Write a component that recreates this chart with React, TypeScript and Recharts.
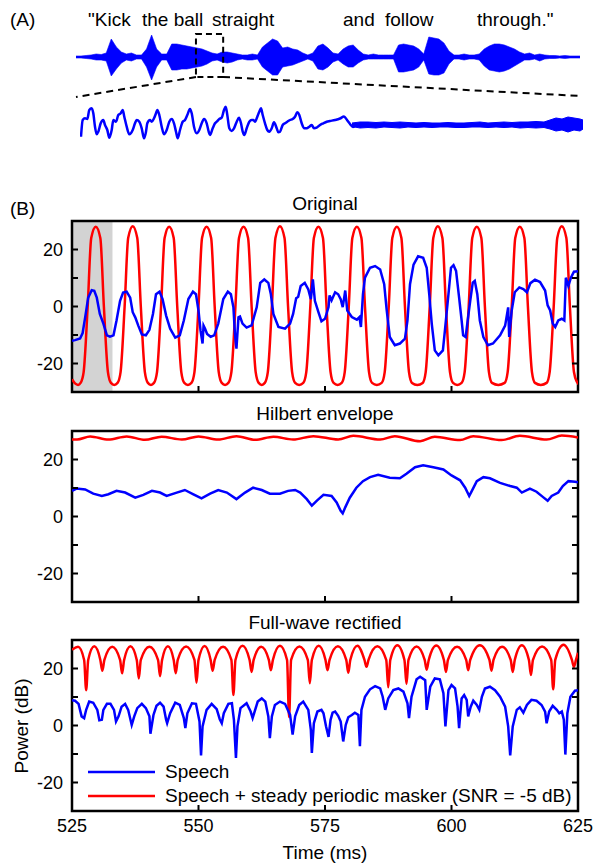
import React from "react";
import {
  Area,
  AreaChart,
  ComposedChart,
  Legend,
  Line,
  LineChart,
  ReferenceArea,
  XAxis,
  YAxis,
} from "recharts";

const FONT = '"Liberation Sans", Arial, Helvetica, sans-serif';
const BLUE = "#0000ff";
const RED = "#ff0000";

// ---- panel A: full sentence waveform (envelope per column, arbitrary units) ----
const sentenceWords = [
  { text: "\"Kick", x: 88 },
  { text: "the ball", x: 142 },
  { text: "straight", x: 212 },
  { text: "and", x: 343 },
  { text: "follow", x: 385 },
  { text: "through.\"", x: 477 },
];

const waveUpper = [
  1, 1, 1.5, 2, 3, 2.5, 4, 18, 10, 5, 3, 4, 2, 2, 8, 22, 8, 3, 3, 13, 13, 12, 11,
  10, 9, 8, 6, 4, 3, 5, 5, 4, 3, 2, 2, 3, 2, 10, 14, 18, 16, 9, 10, 8, 7, 4, 2, 4,
  11, 13, 9, 4, 3, 8, 11, 12, 7, 3, 2, 3, 2, 2, 2, 2, 12, 13, 12, 11, 8, 3, 20, 19,
  18, 14, 6, 2, 2, 3, 2, 2, 3, 8, 11, 13, 13, 12, 10, 8, 5, 3, 4, 2, 3, 2, 1.5, 1.5,
  1, 1.5, 1, 1, 1,
];
const waveLower = [
  -1, -1, -1.5, -2, -3, -3, -4, -19, -12, -6, -3, -4, -2, -2, -10, -23, -10, -3,
  -3, -13, -13, -12, -12, -11, -10, -9, -7, -4, -3, -5, -6, -5, -3, -2, -3, -3, -2,
  -10, -14, -18, -18, -10, -9, -8, -6, -4, -2, -4, -12, -13, -10, -5, -3, -7, -10,
  -10, -6, -3, -2, -2, -2, -2, -2, -2, -15, -15, -14, -13, -10, -3, -17, -18, -18,
  -16, -7, -2, -2, -3, -2, -2, -3, -9, -13, -14, -15, -14, -12, -9, -6, -3, -3, -2,
  -4, -2, -1.5, -1.5, -1, -1.5, -1, -1, -1,
];

// ---- panel A: zoomed excerpt (voiced part as a line, noisy part as a band) ----
const zoomVoiced: [number, number][] = [
  [1, -11.7], [2.7, 5], [5, 6.7], [7.3, 6], [9.3, 15], [11.7, 16.7], [13.3, 11.7],
  [15, -1.7], [16.7, -9.3], [18.3, -6.7], [20.7, 1.7], [23.3, 5], [25, 0], [27.3, -5],
  [29.3, -12.7], [31.7, -5], [33.3, 5], [36, 3.3], [38.3, 10], [40.7, 11.7], [42.7, 15],
  [44.3, 8.3], [46.7, -1.7], [49.3, -9.3], [52.7, -5], [55, 1.7], [56.7, 5], [59.3, 3.3],
  [61.7, -3.3], [64, -13.3], [66, -6.7], [67.3, 1.7], [70, 5], [71.7, 3.3], [74, 6.7],
  [76, 11.7], [77.3, 15], [79.3, 10], [81.7, -1.7], [84, -9.3], [86.7, -5], [89.3, 3.3],
  [91.7, 6], [94, 1.7], [96, -6.7], [97.7, -13.3], [100, -5], [102.7, 3.3], [105, 5],
  [107.3, 10], [110, 16], [111.7, 11.7], [114, -1.7], [116.7, -8.3], [119.3, -5],
  [121.7, 1.7], [124, 6], [126.7, 1.7], [128.7, -6.7], [130, -10], [132.7, -3.3],
  [135, 1.7], [136.7, 3.3], [139.3, 6], [141.7, 7.3], [144, 15], [145.7, 18.3],
  [147.3, 10], [149.3, -3.3], [151.7, -6], [154, -3.3], [156.7, 3.3], [159, 7.3],
  [161, 1.7], [162.7, -6.7], [164.3, -10], [166.7, -3.3], [169.3, 3.3], [171.7, 5],
  [173.3, 5], [175, 3.3], [177.3, 8.3], [179.3, 13.3], [181, 16.7], [182.7, 10],
  [185, 1.7], [187.3, -5], [189.3, -6.7], [191.7, -3.3], [194, 2.7], [196.7, -3.3],
  [198.3, -7.3], [200, -6.7], [202.7, 0], [205, 1.7], [207.3, 3.3], [210, 5],
  [212.7, 6], [215, 8.3], [217.3, 12.7], [219.3, 10], [221.7, 1.7], [224.3, -3.3],
  [226.7, -3.3], [229.3, -1.7], [231.7, 0], [234, -3.3], [236.7, -2.7], [240, 0],
  [243.3, 1.7], [246.7, 3.3], [250, 4], [255, 5], [260, 6.5], [264, 8.5], [267, 5],
  [270, 1], [273, -2], [276, 0],
];
const zoomNoise: [number, number, number][] = [
  [272, -1.5, 2], [280, -3, 3], [288, -2.5, 3], [296, -3, 2.5], [304, -2, 3], [312, -2.5, 2.5],
  [320, -3, 3], [328, -2, 2.5], [336, -2.5, 2], [344, -2, 2.5], [352, -2.5, 2], [360, -2, 2],
  [368, -2, 2.5], [376, -2.5, 2], [384, -2.5, 2], [392, -2, 2.5], [400, -2, 3],
  [408, -2.5, 2], [416, -2, 2.5], [424, -2.5, 3], [432, -2, 2.5], [440, -3, 3],
  [448, -2.5, 3], [456, -3, 3.5], [464, -2.5, 3], [470, -4, 5], [476, -6, 7],
  [482, -5, 6], [488, -7, 8], [494, -5, 7], [500, -6, 6], [503, -4, 5],
];

// ---- panel B: time (ms) / power (dB) pairs ----
const xTicks = [525, 550, 575, 600, 625];
const yTicks = [-20, -10, 0, 10, 20];
const yLabelled = [-20, 0, 20];
const legendLabels = ["Speech", "Speech + steady periodic masker (SNR = -5 dB)"];

const origSpeech: [number, number][] = [
  [525, -12], [525.6, -11.8], [526.6, -11.2], [527.1, -9.3], [527.6, -3.8], [528.2, 3.1],
  [528.9, 5.7], [529.4, 5.5], [529.9, 3.1], [530.5, -2.6], [531.2, -6], [531.9, -10.1],
  [532.5, -10.6], [533.2, -10.1], [533.8, -4.9], [534.5, 2], [535.1, 4.9], [535.8, 5.2],
  [536.5, 3.1], [537, -2], [537.5, -3.8], [538.1, -6.7], [538.8, -9.8], [539.6, -10.1],
  [540.3, -8.2], [541, -2.6], [541.6, 4.3], [542.3, 5.2], [542.9, 2.6], [543.6, -3.2],
  [544.4, -7.8], [545.4, -10.9], [546.3, -10.1], [547.1, -4.9], [548, 2.6], [548.9, 5.2],
  [549.5, 4.3], [550, -1.4], [550.4, -8.4], [550.8, -13], [551, -6.7], [551.3, -7.8],
  [551.7, -9.6], [552.4, -10.6], [553.1, -10.1], [553.9, -6], [554.9, 2.6], [555.8, 5.2],
  [556.4, 4.3], [556.9, -0.3], [557.2, -9.6], [557.5, -14.8], [557.9, -3.8], [558.2, -3.5],
  [558.7, -6], [559.5, -7.4], [560.5, -6.6], [561.5, -0.3], [562.2, 8.3], [563, 9.5],
  [563.8, 8.3], [564.3, 4.3], [564.8, -2.6], [565.8, -7.2], [567.1, -7.8], [568.1, -6],
  [568.7, -2.6], [569.3, 2.9], [569.7, 3.4], [570.2, 7.2], [571, 8.3], [571.7, 6],
  [572.2, 2.6], [572.6, 9.5], [573, 2], [573.7, -2], [574.3, -5.2], [575, -4.3],
  [575.7, -0.2], [575.9, 3.9], [576.3, 2.2], [577, 5], [577.6, 4.3], [578.1, 2.6],
  [578.5, -0.2], [578.8, 3.2], [579, 5.6], [579.4, -1.4], [580.3, -3.7], [581.3, -4.6],
  [581.8, -3.7], [582.1, -7.2], [582.5, 4.3], [582.9, 10.1], [583.9, 13.6], [584.9, 14.2],
  [585.9, 13], [586.7, 7.8], [587.2, -1.4], [587.8, -10.7], [588.8, -13.6], [589.8, -13],
  [590.8, -11.3], [591.3, -4.9], [591.8, 7.8], [592.5, 14.7], [593.4, 17.6], [594.4, 17.1],
  [595.1, 13.6], [595.6, 4.3], [596.1, -6.1], [596.7, -15.4], [597.4, -17.1], [598.3, -15.4],
  [598.7, -8.4], [599.4, 4.3], [599.9, 13.6], [600.4, 14.5], [600.9, 12.5], [601.5, 3.2],
  [602, -4.9], [602.3, -10.1], [602.8, -10.7], [603.2, -4.9], [603.7, 2], [604.2, 8.4],
  [604.6, 9], [605.1, 4.3], [605.6, -4.9], [606.3, -10.7], [607.2, -13.6], [608.2, -13],
  [609.6, -10.1], [610.6, -6.7], [611.2, -0.3], [611.4, -10.7], [611.9, -1.4], [612.5, 5],
  [613.4, 6.7], [614.2, 6.1], [614.9, 5], [615.6, 8.2], [616.5, 9.4], [617.5, 8.6],
  [618.5, 5.6], [619, 0.4], [619.5, -1.4], [620, -6], [620.5, -7.2], [621.1, -4.9],
  [621.8, -4.3], [622.3, -4.9], [622.6, 10.1], [623.1, 7.2], [623.6, 10.1], [624.2, 12.2],
  [625, 12.4],
];

const origMasked: [number, number][] = [
  [525, -25.5], [525.6, -27], [526.2, -27.5], [526.7, -26.8],
  [527.3, -23], [528.1, 0], [528.8, 24], [529.7, 28], [530.6, 24], [531.3, 0], [532.1, -23],
  [532.7, -26.8], [533.35, -27.5], [534, -26.8],
  [534.6, -23], [535.4, 0], [536.1, 24], [537, 28.2], [537.9, 24], [538.6, 0], [539.4, -23],
  [540, -26.8], [540.6, -27.5], [541.2, -26.8],
  [541.8, -23], [542.6, 0], [543.3, 24], [544.2, 28], [545.1, 24], [545.8, 0], [546.6, -23],
  [547.2, -26.8], [547.9, -27.5], [548.6, -26.8],
  [549.2, -23], [550, 0], [550.7, 24], [551.6, 28], [552.5, 24], [553.2, 0], [554, -23],
  [554.6, -26.8], [555.25, -27.5], [555.9, -26.8],
  [556.5, -23], [557.3, 0], [558, 24], [558.9, 28], [559.8, 24], [560.5, 0], [561.3, -23],
  [561.9, -26.8], [562.5, -27.5], [563.1, -26.8],
  [563.7, -23], [564.5, 0], [565.2, 24], [566.1, 28.2], [567, 24], [567.7, 0], [568.5, -23],
  [569.1, -26.8], [569.9, -27.5], [570.7, -26.8],
  [571.3, -23], [572.1, 0], [572.8, 24], [573.7, 28], [574.6, 24], [575.3, 0], [576.1, -23],
  [576.7, -26.8], [577.5, -27.5], [578.3, -26.8],
  [578.9, -23], [579.7, 0], [580.4, 24], [581.3, 28], [582.2, 24], [582.9, 0], [583.7, -23],
  [584.3, -26.8], [585.25, -27.5], [586.2, -26.8],
  [586.8, -23], [587.6, 0], [588.3, 24], [589.2, 28], [590.1, 24], [590.8, 0], [591.6, -23],
  [592.2, -26.8], [593.25, -27.5], [594.3, -26.8],
  [594.9, -23], [595.7, 0], [596.4, 24], [597.3, 28.2], [598.2, 24], [598.9, 0], [599.7, -23],
  [600.3, -26.8], [601.15, -27.5], [602, -26.8],
  [602.6, -23], [603.4, 0], [604.1, 24], [605, 28], [605.9, 24], [606.6, 0], [607.4, -23],
  [608, -26.8], [609.25, -27.5], [610.5, -26.8],
  [611.1, -23], [611.9, 0], [612.6, 24], [613.5, 28], [614.4, 24], [615.1, 0], [615.9, -23],
  [616.5, -26.8], [617.65, -27.5], [618.8, -26.8],
  [619.4, -23], [620.2, 0], [620.9, 24], [621.8, 28.2], [622.7, 24], [623.4, 0], [624.2, -23],
  [624.8, -26.5], [625.3, -27.5],
];

const hilbSpeech: [number, number][] = [
  [525, 9], [525.9, 9.8], [527.6, 9.5], [529.2, 8], [530.9, 7.2], [532.2, 7.8], [533.8, 9],
  [535.5, 8.4], [537.5, 6.6], [539.1, 7.6], [540.8, 9], [542.4, 8.4], [543.7, 7.2],
  [545.7, 8.4], [547.3, 9.3], [549, 7.8], [550.6, 6.4], [552.3, 8], [553.9, 9.3],
  [555.6, 8.4], [557.5, 6.1], [559.2, 8.4], [560.8, 10.1], [562.5, 9.3], [564.1, 8],
  [566.1, 8], [567.7, 9], [569.1, 9.3], [570.1, 8.4], [571.4, 6.1], [572.4, 3.8],
  [573.4, 5.6], [574.7, 7.6], [575.7, 7.4], [576.3, 7.2], [577.3, 4.9], [578.1, 2],
  [578.5, 1.1], [579, 3.2], [579.9, 6.6], [581.2, 10.1], [582.5, 12.4], [583.9, 13.8],
  [585.5, 14.6], [587.8, 13.6], [589.8, 13.4], [591.1, 15], [592.8, 17.3], [594.4, 18],
  [596.4, 17.3], [598.4, 16.5], [600, 14.4], [601.7, 12.7], [602.7, 10.1], [603.5, 7.2],
  [604, 8.9], [605, 12.4], [606.3, 13.8], [607.6, 13.4], [609.6, 11.8], [611.6, 10.7],
  [612.9, 10.1], [613.9, 8.4], [615.5, 9.8], [616.8, 8.7], [618.1, 6.8], [619, 5.5],
  [619.8, 7.2], [621.1, 8.4], [622, 10.7], [623.1, 12.4], [624.4, 12.2], [625, 12],
];

const hilbMasked: [number, number][] = [
  [525, 27], [526, 27], [528.6, 28.1], [532.2, 27], [535.8, 28.1], [539.4, 26.9],
  [542.7, 28], [546.7, 27], [550, 28.1], [553.9, 27], [557.5, 28.2], [561.2, 26.9],
  [564.8, 28], [568.7, 27], [572.7, 28.2], [577.6, 27], [580.6, 28.3], [585.9, 27],
  [588.8, 28.2], [593.8, 26.4], [596.7, 28], [601.7, 26.8], [604.3, 28.2], [609.9, 26.8],
  [613.5, 28.3], [618.8, 27], [621.8, 28.4], [625, 27.7],
];

const fwrSpeech: [number, number][] = [
  [525, 8.9], [525.6, 8.7], [526.3, 7.6], [526.9, 3.2], [527.4, 2.6], [527.8, 5.5],
  [528.4, 8.4], [529.2, 8], [530, 5.5], [530.4, 1.8], [530.9, 2], [531.2, 5.5], [531.9, 7.6],
  [532.6, 7.6], [533.3, 5.5], [533.7, 1.4], [534.2, 3.2], [534.8, 6.6], [535.5, 7.6],
  [536.1, 5.5], [536.8, 0.2], [537.3, 3.2], [537.9, 6.1], [538.8, 7.6], [539.6, 6.1],
  [540.3, 3.2], [540.5, -2.9], [541.1, 3.7], [541.7, 6.9], [542.4, 8], [543.1, 6.6],
  [543.6, 2], [543.8, 0.8], [544.4, 4.3], [545.4, 8], [546.3, 7.2], [547.1, 2.6],
  [547.4, -0.9], [547.8, 4.3], [548.7, 7.8], [549.5, 7.6], [550.2, 1.4], [550.5, -10.5],
  [550.8, -0.3], [551.6, 5.5], [552.6, 7.6], [553.6, 5.7], [554.2, 2.2], [554.6, 0.8],
  [555, 4.3], [555.9, 7.6], [556.6, 7.8], [557, 2], [557.4, -11.4], [557.7, -0.3],
  [558.3, 6.1], [559.5, 7.8], [560.3, 4.9], [560.7, 2.6], [561, 4.3], [561.7, 8.4],
  [562.5, 9.5], [563.2, 8.4], [563.8, 3.2], [564.1, -4.4], [564.5, 3.2], [565.1, 7.2],
  [566.1, 8.4], [567.1, 7.6], [568.1, 3.7], [568.6, -3.2], [569.1, 3.2], [569.9, 7.2],
  [570.7, 8.4], [571.7, 5.5], [572.2, -1.5], [572.4, -9.6], [572.8, 0.8], [573.5, 4.9],
  [574.3, 5.5], [574.7, 4.3], [575.2, -0.3], [575.7, -4], [576.1, 2], [576.5, 4.5],
  [577, 4.9], [577.6, 3.4], [578.1, 1.4], [578.6, -5.6], [579.1, 0.2], [579.6, 2.9],
  [580.3, 3.7], [580.9, 4.5], [581.6, 3.7], [581.9, -7.3], [582.2, 5.5], [582.9, 10.1],
  [583.9, 12.7], [584.9, 13.8], [585.9, 13], [586.4, 10.1], [586.9, 5.5], [587.5, 9.5],
  [588.5, 12.4], [589.5, 13], [590.5, 11.9], [591.3, 7.8], [591.6, 2.6], [592.1, 10.1],
  [593.1, 16.2], [593.8, 17.1], [594.8, 15.9], [595.1, 5.5], [595.8, 13.6], [596.7, 16.5],
  [597.7, 16.2], [598.4, 11.3], [598.8, -0.3], [599.4, 12.4], [600, 14.2], [600.7, 13],
  [601.2, 6.6], [601.5, -0.9], [602, 9.5], [602.5, 10.7], [603, 9], [603.3, 3.2],
  [603.8, 6.6], [604.3, 8.7], [605, 7.2], [605.5, 5.5], [606, 10.1], [606.6, 13],
  [607.6, 13.6], [608.6, 12.4], [609.6, 10.1], [610.6, 6.6], [611.2, -0.3], [611.6, -10.5],
  [612.1, -0.3], [612.9, 5.5], [613.5, 6.4], [614.2, 4.5], [614.9, 7.2], [615.8, 9],
  [616.8, 8.7], [617.8, 7.2], [618.5, 4.9], [618.8, 0.8], [619.3, 4.9], [620, 6.9],
  [620.8, 5.5], [621.3, 4.3], [621.8, 4.9], [622.2, 2], [622.5, -10.2], [622.9, 4.3],
  [623.5, 10.1], [624.4, 12.2], [625, 12.4],
];

const fwrMasked: [number, number][] = [
  [525, 26.6], [526.2, 27.6], [527.4, 23], [527.8, 12.4], [528.2, 23],
  [529.4, 27.8], [530.6, 23], [531, 19.2], [531.4, 23],
  [532.95, 27.6], [534.5, 23], [534.9, 18.3], [535.3, 23],
  [536.55, 27.8], [537.8, 23], [538.2, 16.5], [538.6, 23],
  [540.3, 27.6], [542, 23], [542.4, 17.3], [542.8, 23],
  [543.95, 27.8], [545.1, 23], [545.5, 18.3], [545.9, 23],
  [547.55, 27.7], [549.2, 23], [549.6, 15], [550, 23],
  [551.2, 27.9], [552.4, 23], [552.8, 19.2], [553.2, 23],
  [554.85, 27.6], [556.5, 23], [556.9, 10.7], [557.3, 23],
  [558.7, 28], [560.1, 23], [560.5, 18.8], [560.9, 23],
  [562.4, 27.6], [563.9, 23], [564.3, 19.4], [564.7, 23],
  [566.1, 28], [567.5, 23], [567.9, 2.9], [568.3, 23],
  [569.95, 27.7], [571.6, 23], [572, 14.8], [572.4, 23],
  [573.75, 28], [575.1, 23], [575.5, 19.4], [575.9, 23],
  [577.55, 27.8], [579.2, 23], [579.6, 18.5], [580, 23],
  [581.4, 28], [582.8, 23], [583.2, 20.6], [583.6, 23],
  [585.35, 27.8], [587.1, 23], [587.5, 13.4], [587.9, 23],
  [589.3, 28.2], [590.7, 23], [591.1, 14.6], [591.5, 23],
  [593.1, 27.7], [594.7, 23], [595.1, 19.6], [595.5, 23],
  [597, 28.1], [598.5, 23], [598.9, 18.8], [599.3, 23],
  [601.1, 27.6], [602.9, 23], [603.3, 19.4], [603.7, 23],
  [605.6, 28.2], [607.5, 23], [607.9, 19.2], [608.3, 23],
  [610, 27.6], [611.7, 23], [612.1, 18.8], [612.5, 23],
  [613.9, 28.2], [615.3, 23], [615.7, 17.7], [616.1, 23],
  [617.9, 27.7], [619.7, 23], [620.1, 12.7], [620.5, 23],
  [622.15, 28.3], [623.8, 23], [624.2, 20.6], [624.6, 23], [625, 25.5],
];

const pts = (arr: [number, number][]) => arr.map(([t, v]) => ({ t, v }));

const tickFont = { fill: "#000", fontSize: 18, fontFamily: FONT };
const tickStroke = { stroke: "#000", strokeWidth: 2 };

interface PanelProps {
  top: number;
  title: string;
  speech: [number, number][];
  masked: [number, number][];
  shade?: boolean;
  bottom?: boolean;
}

function Panel({ top, title, speech, masked, shade, bottom }: PanelProps) {
  const h = 10 + 171 + 34;
  return (
    <>
      <div
        style={{
          position: "absolute",
          left: 72,
          width: 506,
          top: top - 28,
          textAlign: "center",
          fontSize: 19,
          fontFamily: FONT,
        }}
      >
        {title}
      </div>
      <div style={{ position: "absolute", left: 0, top: top - 10 }}>
        <LineChart width={596} height={h} margin={{ top: 10, right: 0, bottom: 0, left: 0 }}>
          <XAxis
            dataKey="t"
            type="number"
            domain={[525, 625]}
            ticks={xTicks}
            allowDataOverflow
            axisLine={false}
            tickSize={-6}
            tickMargin={14}
            height={34}
            tickLine={tickStroke}
            tick={tickFont}
            tickFormatter={(v) => (bottom ? String(v) : "")}
          />
          <XAxis
            xAxisId="top"
            orientation="top"
            dataKey="t"
            type="number"
            domain={[525, 625]}
            ticks={xTicks}
            allowDataOverflow
            axisLine={false}
            tickSize={-6}
            height={0}
            tickLine={tickStroke}
            tickFormatter={() => ""}
          />
          <YAxis
            yAxisId="l"
            width={72}
            domain={[-30, 30]}
            ticks={yTicks}
            allowDataOverflow
            axisLine={false}
            tickSize={-6}
            tickMargin={15}
            tickLine={tickStroke}
            tick={tickFont}
            tickFormatter={(v) => (yLabelled.includes(v) ? String(v) : "")}
          />
          <YAxis
            yAxisId="r"
            orientation="right"
            width={18}
            domain={[-30, 30]}
            ticks={yTicks}
            allowDataOverflow
            axisLine={false}
            tickSize={-6}
            tickLine={tickStroke}
            tickFormatter={() => ""}
          />
          {shade && (
            <ReferenceArea
              yAxisId="l"
              x1={525}
              x2={533}
              y1={-30}
              y2={30}
              fill="#d3d3d3"
              fillOpacity={1}
              stroke="none"
            />
          )}
          <Line
            yAxisId="l"
            data={pts(masked)}
            dataKey="v"
            type="monotone"
            stroke={RED}
            strokeWidth={2.5}
            dot={false}
            isAnimationActive={false}
          />
          <Line
            yAxisId="l"
            data={pts(speech)}
            dataKey="v"
            type="linear"
            stroke={BLUE}
            strokeWidth={2.5}
            dot={false}
            isAnimationActive={false}
          />
          <ReferenceArea
            yAxisId="l"
            x1={525}
            x2={625}
            y1={-30}
            y2={30}
            fill="none"
            stroke="#000"
            strokeWidth={2.5}
            ifOverflow="visible"
          />
          {bottom && (
            <Legend
              layout="vertical"
              align="center"
              verticalAlign="middle"
              wrapperStyle={{ left: 86, top: 130, width: 500 }}
              content={() => (
                <div style={{ fontFamily: FONT, fontSize: 19, lineHeight: "24px" }}>
                  {legendLabels.map((label, i) => (
                    <div key={label} style={{ display: "flex", alignItems: "center", whiteSpace: "nowrap" }}>
                      <svg width={70} height={24}>
                        <line x1={2} x2={69} y1={12} y2={12} stroke={i === 0 ? BLUE : RED} strokeWidth={2.5} />
                      </svg>
                      <span style={{ marginLeft: 9 }}>{label}</span>
                    </div>
                  ))}
                </div>
              )}
            />
          )}
        </LineChart>
      </div>
    </>
  );
}

export default function App() {
  const waveData = waveUpper.map((hi, i) => ({ i, r: [waveLower[i], hi] }));
  const noiseData = zoomNoise.map(([t, lo, hi]) => ({ t, r: [lo, hi] }));
  const label = { position: "absolute" as const, fontFamily: FONT, fontSize: 19, whiteSpace: "nowrap" as const };

  return (
    <div style={{ position: "absolute", left: 0, top: 0, width: 596, height: 866, background: "#fff" }}>
      <div style={{ ...label, left: 10, top: 9 }}>(A)</div>
      <div style={{ ...label, left: 10, top: 198 }}>(B)</div>
      {sentenceWords.map((w) => (
        <div key={w.text} style={{ ...label, left: w.x, top: 9 }}>
          {w.text}
        </div>
      ))}

      <div style={{ position: "absolute", left: 76, top: 32 }}>
        <AreaChart width={504} height={50} data={waveData} margin={{ top: 0, right: 0, bottom: 0, left: 0 }}>
          <XAxis dataKey="i" type="number" domain={[0, 100]} hide />
          <YAxis domain={[-25, 25]} hide allowDataOverflow />
          <Area
            dataKey="r"
            type="linear"
            stroke={BLUE}
            strokeWidth={0.6}
            fill={BLUE}
            fillOpacity={1}
            isAnimationActive={false}
          />
          <ReferenceArea
            x1={23.8}
            x2={29.2}
            y1={-20}
            y2={23}
            fill="none"
            stroke="#000"
            strokeWidth={2}
            strokeDasharray="6 4"
            ifOverflow="visible"
          />
        </AreaChart>
      </div>

      <svg width={596} height={866} style={{ position: "absolute", left: 0, top: 0, pointerEvents: "none" }}>
        <line x1={196} y1={77} x2={76} y2={97} stroke="#000" strokeWidth={2} strokeDasharray="7 5" />
        <line x1={223} y1={77} x2={580} y2={96} stroke="#000" strokeWidth={2} strokeDasharray="7 5" />
      </svg>

      <div style={{ position: "absolute", left: 80, top: 100 }}>
        <ComposedChart width={503} height={50} margin={{ top: 0, right: 0, bottom: 0, left: 0 }}>
          <XAxis dataKey="t" type="number" domain={[0, 503]} hide allowDataOverflow />
          <YAxis domain={[-25, 25]} hide allowDataOverflow />
          <Area
            data={noiseData}
            dataKey="r"
            type="linear"
            stroke={BLUE}
            strokeWidth={1}
            fill={BLUE}
            fillOpacity={1}
            isAnimationActive={false}
          />
          <Line
            data={pts(zoomVoiced)}
            dataKey="v"
            type="monotone"
            stroke={BLUE}
            strokeWidth={2.5}
            dot={false}
            isAnimationActive={false}
          />
        </ComposedChart>
      </div>

      <Panel top={221} title="Original" speech={origSpeech} masked={origMasked} shade />
      <Panel top={431} title="Hilbert envelope" speech={hilbSpeech} masked={hilbMasked} />
      <Panel top={640} title="Full-wave rectified" speech={fwrSpeech} masked={fwrMasked} bottom />

      <div
        style={{
          ...label,
          left: 22,
          top: 726,
          transform: "translate(-50%, -50%) rotate(-90deg)",
        }}
      >
        Power (dB)
      </div>
      <div style={{ ...label, left: 72, width: 506, top: 842, textAlign: "center" }}>Time (ms)</div>
    </div>
  );
}
